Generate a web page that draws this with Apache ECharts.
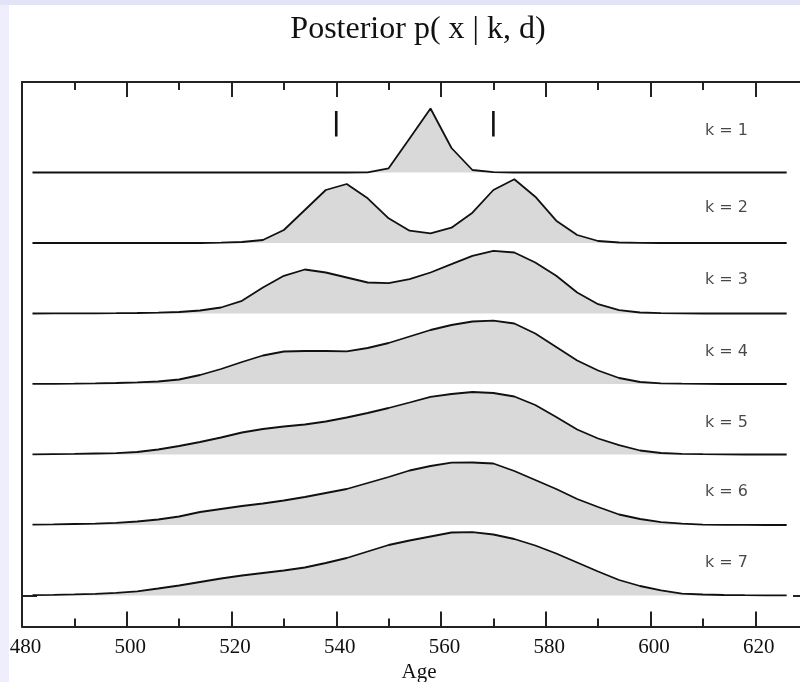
<!DOCTYPE html>
<html><head><meta charset="utf-8">
<script src="https://cdn.jsdelivr.net/npm/echarts@6/dist/echarts.min.js"></script>
<style>
html,body{margin:0;padding:0;width:800px;height:682px;overflow:hidden;background:#fff}
#c{position:absolute;left:0;top:0;width:860px;height:682px}
</style></head>
<body><div id="c"></div>
<script>
// ---- data ----
const ages = [482,486,490,494,498,502,506,510,514,518,522,526,530,534,538,542,546,550,554,558,562,566,570,574,578,582,586,590,594,598,602,606,610,614,618,622,626];
const k1 = [0,0,0,0,0,0,0,0,0,0,0,0,0,0,0,0,0.2,4.2,34,64,24.5,2.5,0.3,0,0,0,0,0,0,0,0,0,0,0,0,0,0];
const k2 = [0,0,0,0,0,0,0,0,0,0.3,1,3,13,33,53,59,44.7,24.7,12.3,9.7,15.3,30.3,53,63.7,46.3,22.3,8,2,0.5,0.1,0,0,0,0,0,0,0];
const k3 = [0,0.1,0.1,0.2,0.3,0.5,0.8,1.5,3,6,12.7,26,37.7,44,41,36,31,30.3,34.3,41,49.3,57.7,62.7,61,51,37.7,21,9.3,3.3,1,0.3,0.1,0,0,0,0,0];
const k4 = [0.1,0.2,0.3,0.6,1,1.6,2.5,4.5,9,15,22,28.5,32.5,33,33,32.7,36,41,47.5,54,59,62.5,63.3,60.5,50.5,37,23.5,13.5,6,2,0.7,0.3,0.1,0,0,0,0];
const k5 = [0.2,0.4,0.6,1,1.3,2.5,5,8.5,12.5,17,22,25.5,28,30,33,37,41.5,46.5,52,57.7,60.5,62.5,61.5,58,49.5,37.5,25,16,9.3,4,1.5,0.7,0.3,0.1,0,0,0];
const k6 = [0.3,0.6,1,1.4,2.2,3.5,5.5,8.5,13,16,19,21.5,24.5,28,32,36,42,48,54.5,59,62.3,62.5,61.5,54,45,36,26,18,10.5,6,2.9,1.3,0.3,0.2,0.1,0,0];
const k7 = [0.4,0.7,1.1,1.7,2.6,4.2,7,10,13.5,17,20,22.5,25,28,32.5,37.5,44,50.5,55,59,63,63.3,61,56.5,50,42,33,24,15.5,9.5,5.1,1.8,1,0.5,0.3,0.2,0.1];
const densities = [k1,k2,k3,k4,k5,k6,k7];
const rowLabels = ['k = 1','k = 2','k = 3','k = 4','k = 5','k = 6','k = 7'];
const labelHeights = [42,35,33.5,32,31.5,33,32.5];
const labelAge = 614.5;
const markerAges = [540, 570];
const markerRange = [36, 61.5];
const xTickLabels = [480,500,520,540,560,580,600,620];

// ---- layout ----
const ROW_GAP = 70.5;
const baseOf = i => (densities.length - 1 - i) * ROW_GAP;
const LINE = '#111';

const series = [];
densities.forEach((vals, i) => {
  const base = baseOf(i);
  series.push({
    type: 'line', symbol: 'none', silent: true,
    data: ages.map((a, j) => [a, base + vals[j]]),
    lineStyle: {color: LINE, width: 1.8},
    areaStyle: {color: '#d9d9d9', opacity: 1, origin: base},
    z: 3
  });
});
markerAges.forEach(a => {
  series.push({
    type: 'line', symbol: 'none', silent: true,
    data: [[a, baseOf(0) + markerRange[0]], [a, baseOf(0) + markerRange[1]]],
    lineStyle: {color: LINE, width: 2.6}, z: 4
  });
});
series.push({
  type: 'scatter', symbolSize: 0, silent: true,
  data: rowLabels.map((t, i) => ({name: t, value: [labelAge, baseOf(i) + labelHeights[i]]})),
  label: {show: true, position: 'inside', formatter: p => p.name,
    fontFamily: 'DejaVu Sans', fontSize: 16, color: '#1a1a1a'},
  z: 5
});

const axisLine = {show: true, onZero: false, lineStyle: {color: '#222', width: 2}};
const tick = {show: true, inside: true, length: 15, lineStyle: {color: '#222', width: 2}};
const minor = {show: true, splitNumber: 2, length: 8, lineStyle: {color: '#222', width: 2}};

const chart = echarts.init(document.getElementById('c'), null, {renderer: 'canvas'});
chart.setOption({
  animation: false,
  backgroundColor: '#fff',
  title: {
    text: 'Posterior p( x | k, d)', left: 418, top: 14, padding: 0, textAlign: 'center',
    textStyle: {fontFamily: 'Liberation Serif', fontSize: 32, fontWeight: 'normal', color: '#111'}
  },
  grid: {left: 22, right: 0, top: 82, bottom: 55.5, containLabel: false, outerBoundsMode: 'none'},
  xAxis: [{
    type: 'value', position: 'bottom', min: 480, max: 640, interval: 20,
    axisLine, axisTick: tick, minorTick: minor, splitLine: {show: false}, minorSplitLine: {show: false},
    axisLabel: {show: true, margin: 10, fontFamily: 'Liberation Serif', fontSize: 21, color: '#111',
      padding: [0,0,0,7], showMaxLabel: false,
      formatter: v => xTickLabels.indexOf(v) >= 0 ? String(v) : ''},
    name: 'Age', nameLocation: 'middle', nameGap: 33,
    nameTextStyle: {fontFamily: 'Liberation Serif', fontSize: 21, color: '#111', padding: [0,44,0,0]}
  }, {
    type: 'value', position: 'top', min: 480, max: 640, interval: 20,
    axisLine, axisTick: tick, minorTick: minor, splitLine: {show: false},
    axisLabel: {show: false}
  }],
  yAxis: [{
    type: 'value', position: 'left', min: -31, max: 513.5,
    axisLine, axisTick: Object.assign({}, tick, {customValues: [0]}),
    axisLabel: {show: false}, splitLine: {show: false}
  }, {
    type: 'value', position: 'right', offset: -52, min: -31, max: 513.5,
    axisLine, axisTick: Object.assign({}, tick, {customValues: [0]}),
    axisLabel: {show: false}, splitLine: {show: false}
  }],
  graphic: [
    {type: 'rect', shape: {x: 0, y: 0, width: 9, height: 682}, style: {fill: '#eeeefc'}, z: 100, silent: true},
    {type: 'rect', shape: {x: 0, y: 0, width: 860, height: 5}, style: {fill: '#e3e3f8'}, z: 100, silent: true}
  ],
  series
});
</script>
</body></html>
